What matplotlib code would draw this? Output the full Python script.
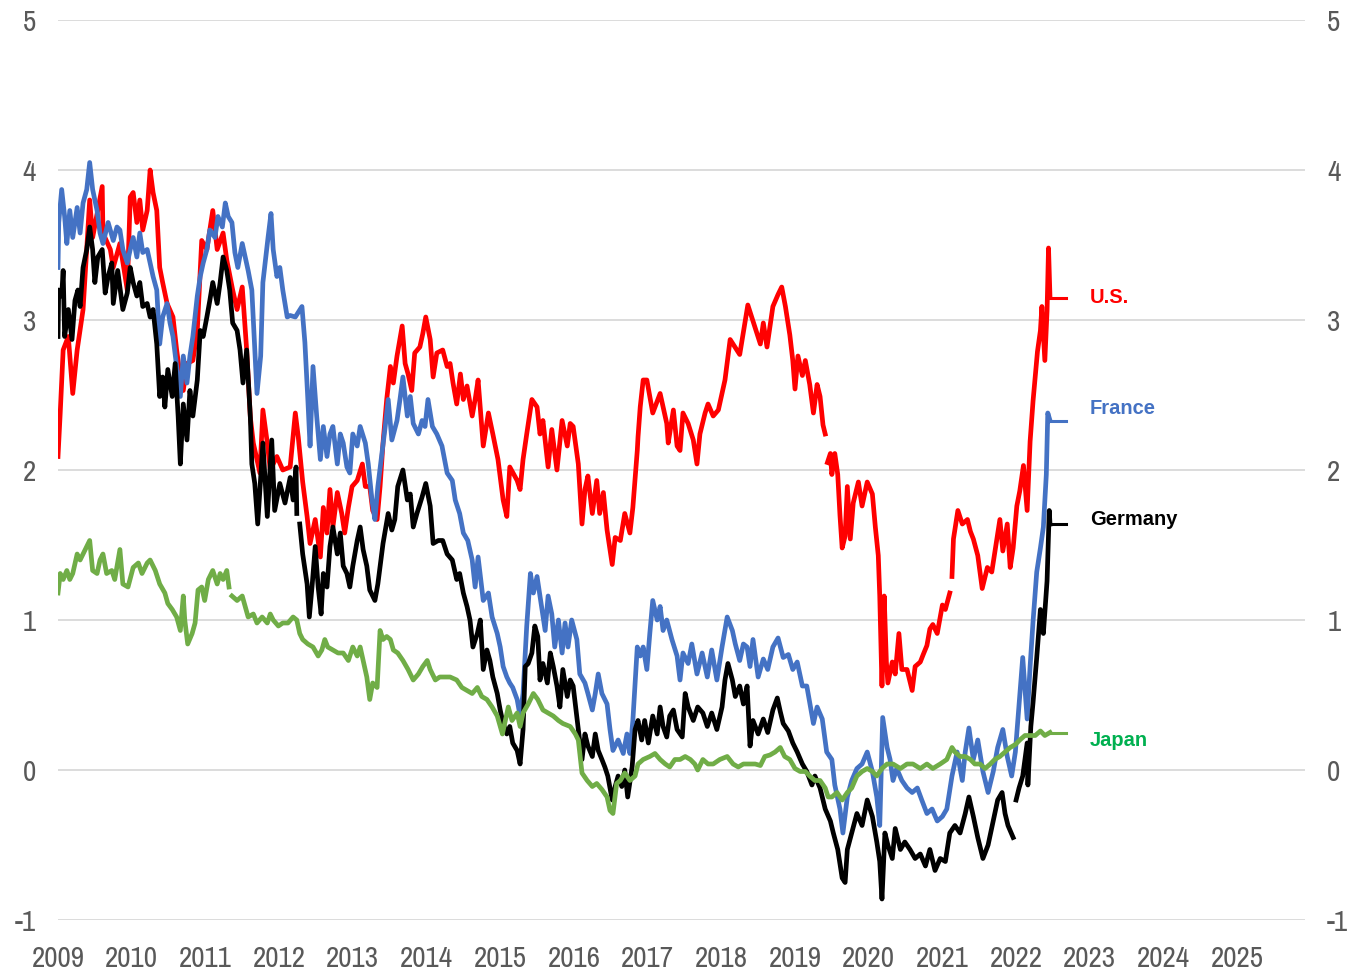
import numpy as np
import matplotlib
matplotlib.use("Agg")
import matplotlib.pyplot as plt
from matplotlib import font_manager

nan = np.nan

# 10-year government bond yields, %, decimal-year dates
us_t = [2009.00, 2009.03, 2009.07, 2009.14, 2009.20, 2009.26, 2009.34, 2009.39, 2009.43, 2009.47,
        2009.60, 2009.61, 2009.71, 2009.75, 2009.84, 2009.94, 2009.98, 2010.02, 2010.07, 2010.11,
        2010.15, 2010.21, 2010.25, 2010.29, 2010.34, 2010.38, 2010.42, 2010.48, 2010.56, 2010.61,
        2010.66, 2010.70, 2010.75, 2010.83, 2010.89, 2010.95, 2011.02, 2011.10, 2011.16, 2011.24,
        2011.29, 2011.37, 2011.43, 2011.50, 2011.56, 2011.61, 2011.65, 2011.74, 2011.78, 2011.84,
        2011.88, 2011.97, 2012.05, 2012.15, 2012.22, 2012.26, 2012.32, 2012.38, 2012.42, 2012.49,
        2012.56, 2012.60, 2012.65, 2012.69, 2012.73, 2012.79, 2012.85, 2012.89, 2012.94, 2012.99,
        2013.06, 2013.13, 2013.17, 2013.23, 2013.27, 2013.33, 2013.37, 2013.41, 2013.46, 2013.51,
        2013.55, 2013.60, 2013.67, 2013.71, 2013.75, 2013.80, 2013.84, 2013.91, 2013.95, 2013.99,
        2014.05, 2014.09, 2014.14, 2014.22, 2014.28, 2014.32, 2014.36, 2014.41, 2014.46, 2014.50,
        2014.55, 2014.62, 2014.66, 2014.70, 2014.77, 2014.84, 2014.90, 2014.97, 2015.04, 2015.09,
        2015.13, 2015.23, 2015.27, 2015.31, 2015.36, 2015.43, 2015.50, 2015.54, 2015.58, 2015.65,
        2015.70, 2015.77, 2015.84, 2015.91, 2015.95, 2015.99, 2016.06, 2016.11, 2016.15, 2016.19,
        2016.25, 2016.31, 2016.35, 2016.40, 2016.45, 2016.49, 2016.52, 2016.56, 2016.63, 2016.69,
        2016.76, 2016.80, 2016.86, 2016.87, 2016.90, 2016.94, 2016.99, 2017.07, 2017.17, 2017.26,
        2017.28, 2017.35, 2017.40, 2017.44, 2017.48, 2017.55, 2017.62, 2017.67, 2017.71, 2017.78,
        2017.82, 2017.89, 2017.96, 2018.01, 2018.05, 2018.12, 2018.25, 2018.36, 2018.53, 2018.57,
        2018.62, 2018.70, 2018.77, 2018.82, 2018.87, 2018.93, 2018.97, 2019.00, 2019.04, 2019.10,
        2019.14, 2019.20, 2019.25, 2019.30, 2019.34, 2019.38, 2019.41, 2019.42, 2019.44, 2019.48,
        2019.50, 2019.54, 2019.58, 2019.61, 2019.64, 2019.68, 2019.71, 2019.75, 2019.79, 2019.86,
        2019.91, 2019.98, 2020.05, 2020.09, 2020.13, 2020.15, 2020.18, 2020.21, 2020.24, 2020.26,
        2020.32, 2020.36, 2020.41, 2020.45, 2020.52, 2020.59, 2020.63, 2020.70, 2020.74, 2020.79,
        2020.83, 2020.87, 2020.93, 2021.00, 2021.04, 2021.10, 2021.12, 2021.13, 2021.15, 2021.21,
        2021.27, 2021.34, 2021.38, 2021.42, 2021.48, 2021.54, 2021.61, 2021.67, 2021.74, 2021.78,
        2021.82, 2021.88, 2021.92, 2021.96, 2022.01, 2022.05, 2022.10, 2022.15, 2022.19, 2022.23,
        2022.29, 2022.33, 2022.35, 2022.39, 2022.42, 2022.44, 2022.46]
us_v = [2.09, 2.38, 2.80, 2.89, 2.51, 2.80, 3.07, 3.47, 3.80, 3.55,
        3.89, 3.58, 3.47, 3.35, 3.51, 3.20, 3.82, 3.85, 3.65, 3.80,
        3.60, 3.73, 4.00, 3.85, 3.73, 3.35, 3.25, 3.11, 3.02, 2.80,
        2.62, 2.53, 2.71, 2.73, 2.93, 3.53, 3.47, 3.73, 3.47, 3.58,
        3.40, 3.20, 3.07, 3.22, 2.80, 2.35, 2.18, 1.98, 2.40, 2.18,
        2.00, 2.09, 2.00, 2.02, 2.38, 2.22, 1.92, 1.69, 1.51, 1.67,
        1.42, 1.75, 1.58, 1.87, 1.62, 1.85, 1.71, 1.58, 1.75, 1.89,
        1.93, 2.04, 1.89, 1.89, 1.73, 1.67, 1.89, 2.18, 2.47, 2.69,
        2.58, 2.76, 2.96, 2.71, 2.64, 2.53, 2.78, 2.82, 2.91, 3.02,
        2.87, 2.62, 2.78, 2.80, 2.69, 2.71, 2.58, 2.44, 2.64, 2.47,
        2.56, 2.36, 2.47, 2.60, 2.16, 2.38, 2.24, 2.07, 1.80, 1.69,
        2.02, 1.93, 1.87, 2.07, 2.24, 2.47, 2.42, 2.24, 2.33, 2.02,
        2.27, 2.00, 2.33, 2.16, 2.31, 2.29, 2.04, 1.64, 1.87, 1.96,
        1.71, 1.93, 1.71, 1.85, 1.60, 1.47, 1.37, 1.55, 1.53, 1.71,
        1.58, 1.75, 2.13, 2.22, 2.42, 2.60, 2.60, 2.38, 2.51, 2.31,
        2.18, 2.40, 2.16, 2.13, 2.38, 2.31, 2.20, 2.04, 2.24, 2.38,
        2.44, 2.36, 2.40, 2.51, 2.60, 2.87, 2.77, 3.10, 2.84, 2.98,
        2.82, 3.09, 3.17, 3.22, 3.09, 2.90, 2.73, 2.54, 2.76, 2.63,
        2.73, 2.57, 2.38, 2.57, 2.49, 2.30, 2.24, nan, 2.05, 2.11,
        1.97, 2.11, 1.97, 1.70, 1.48, 1.56, 1.89, 1.54, 1.78, 1.92,
        1.76, 1.92, 1.84, 1.62, 1.43, 1.16, 0.56, 1.16, 0.72, 0.58,
        0.72, 0.64, 0.91, 0.67, 0.67, 0.53, 0.69, 0.72, 0.77, 0.83,
        0.94, 0.97, 0.91, 1.10, 1.07, 1.18, nan, 1.29, 1.54, 1.73,
        1.64, 1.67, 1.59, 1.54, 1.43, 1.21, 1.35, 1.32, 1.54, 1.67,
        1.46, 1.64, 1.35, 1.48, 1.76, 1.86, 2.03, 1.73, 2.19, 2.46,
        2.79, 2.93, 3.09, 2.73, 3.06, 3.48, 3.15]

fr_t = [2009.00, 2009.01, 2009.05, 2009.09, 2009.12, 2009.16, 2009.20, 2009.26, 2009.30, 2009.34,
        2009.39, 2009.43, 2009.47, 2009.53, 2009.57, 2009.61, 2009.68, 2009.75, 2009.80, 2009.84,
        2009.88, 2009.94, 2009.98, 2010.02, 2010.07, 2010.11, 2010.15, 2010.21, 2010.25, 2010.29,
        2010.34, 2010.38, 2010.42, 2010.48, 2010.52, 2010.56, 2010.61, 2010.66, 2010.70, 2010.75,
        2010.79, 2010.83, 2010.89, 2010.93, 2010.97, 2011.02, 2011.06, 2011.13, 2011.17, 2011.23,
        2011.27, 2011.31, 2011.36, 2011.40, 2011.44, 2011.50, 2011.54, 2011.58, 2011.63, 2011.67,
        2011.70, 2011.75, 2011.78, 2011.85, 2011.89, 2011.92, 2011.97, 2012.01, 2012.05, 2012.11,
        2012.15, 2012.22, 2012.31, 2012.35, 2012.39, 2012.42, 2012.46, 2012.51, 2012.56, 2012.60,
        2012.65, 2012.69, 2012.73, 2012.79, 2012.83, 2012.87, 2012.92, 2012.96, 2013.00, 2013.06,
        2013.10, 2013.17, 2013.21, 2013.26, 2013.30, 2013.34, 2013.40, 2013.44, 2013.48, 2013.53,
        2013.60, 2013.64, 2013.68, 2013.74, 2013.78, 2013.82, 2013.89, 2013.94, 2013.98, 2014.02,
        2014.08, 2014.14, 2014.21, 2014.28, 2014.35, 2014.39, 2014.45, 2014.50, 2014.56, 2014.62,
        2014.66, 2014.70, 2014.77, 2014.84, 2014.89, 2014.96, 2015.00, 2015.04, 2015.09, 2015.13,
        2015.17, 2015.23, 2015.27, 2015.31, 2015.36, 2015.41, 2015.45, 2015.50, 2015.57, 2015.61,
        2015.65, 2015.70, 2015.74, 2015.79, 2015.84, 2015.88, 2015.92, 2015.97, 2016.04, 2016.08,
        2016.15, 2016.19, 2016.25, 2016.29, 2016.33, 2016.38, 2016.45, 2016.49, 2016.53, 2016.60,
        2016.67, 2016.72, 2016.76, 2016.80, 2016.86, 2016.90, 2016.94, 2016.99, 2017.03, 2017.07,
        2017.13, 2017.17, 2017.21, 2017.26, 2017.33, 2017.40, 2017.44, 2017.48, 2017.55, 2017.60,
        2017.67, 2017.74, 2017.81, 2017.87, 2017.94, 2018.01, 2018.08, 2018.15, 2018.19, 2018.25,
        2018.30, 2018.35, 2018.39, 2018.43, 2018.50, 2018.57, 2018.63, 2018.70, 2018.77, 2018.84,
        2018.91, 2018.97, 2019.03, 2019.10, 2019.16, 2019.20, 2019.25, 2019.30, 2019.37, 2019.43,
        2019.50, 2019.54, 2019.61, 2019.65, 2019.71, 2019.77, 2019.84, 2019.91, 2019.98, 2020.05,
        2020.11, 2020.15, 2020.19, 2020.25, 2020.29, 2020.33, 2020.38, 2020.45, 2020.52, 2020.59,
        2020.66, 2020.72, 2020.79, 2020.86, 2020.93, 2021.00, 2021.06, 2021.13, 2021.20, 2021.27,
        2021.31, 2021.36, 2021.42, 2021.48, 2021.55, 2021.62, 2021.69, 2021.75, 2021.82, 2021.88,
        2021.94, 2021.99, 2022.03, 2022.09, 2022.15, 2022.19, 2022.23, 2022.28, 2022.33, 2022.37,
        2022.41, 2022.43, 2022.46]
fr_v = [3.35, 3.65, 3.87, 3.69, 3.51, 3.73, 3.55, 3.75, 3.58, 3.78,
        3.87, 4.05, 3.87, 3.73, 3.58, 3.51, 3.65, 3.53, 3.62, 3.60,
        3.47, 3.38, 3.47, 3.55, 3.42, 3.58, 3.45, 3.47, 3.38, 3.29,
        3.20, 2.84, 3.02, 3.11, 2.98, 2.89, 2.69, 2.49, 2.76, 2.58,
        2.76, 2.89, 3.16, 3.29, 3.38, 3.47, 3.60, 3.55, 3.69, 3.62,
        3.78, 3.69, 3.65, 3.45, 3.35, 3.51, 3.42, 3.33, 3.20, 2.80,
        2.51, 2.76, 3.25, 3.55, 3.71, 3.47, 3.29, 3.35, 3.20, 3.02,
        3.03, 3.02, 3.09, 2.85, 2.47, 2.16, 2.69, 2.36, 2.07, 2.29,
        2.09, 2.24, 2.29, 2.04, 2.24, 2.18, 2.02, 1.98, 2.24, 2.16,
        2.29, 2.18, 2.04, 1.80, 1.67, 1.89, 2.13, 2.29, 2.47, 2.20,
        2.33, 2.47, 2.62, 2.36, 2.49, 2.31, 2.24, 2.33, 2.29, 2.47,
        2.29, 2.24, 2.16, 1.98, 1.93, 1.80, 1.71, 1.58, 1.53, 1.40,
        1.22, 1.42, 1.13, 1.18, 1.02, 0.91, 0.82, 0.69, 0.62, 0.58,
        0.55, 0.47, 0.36, 0.51, 0.96, 1.31, 1.18, 1.29, 1.06, 0.93,
        1.16, 1.04, 0.82, 1.00, 0.78, 0.98, 0.82, 1.00, 0.87, 0.64,
        0.58, 0.51, 0.40, 0.51, 0.64, 0.51, 0.44, 0.27, 0.13, 0.20,
        0.11, 0.24, 0.11, 0.33, 0.82, 0.76, 0.82, 0.67, 0.91, 1.13,
        1.00, 1.09, 0.93, 1.00, 0.87, 0.76, 0.60, 0.78, 0.71, 0.84,
        0.64, 0.78, 0.62, 0.80, 0.60, 0.82, 1.02, 0.93, 0.84, 0.73,
        0.84, 0.82, 0.69, 0.87, 0.62, 0.74, 0.67, 0.82, 0.88, 0.75,
        0.77, 0.67, 0.72, 0.56, 0.56, 0.45, 0.31, 0.42, 0.34, 0.12,
        0.07, -0.10, -0.26, -0.42, -0.18, -0.07, 0.01, 0.04, 0.12, -0.01,
        -0.18, -0.37, 0.35, 0.15, 0.07, -0.07, 0.01, -0.07, -0.12, -0.15,
        -0.12, -0.20, -0.29, -0.26, -0.34, -0.31, -0.26, -0.04, 0.12, -0.07,
        0.12, 0.28, 0.07, 0.20, -0.01, -0.15, -0.01, 0.15, 0.27, 0.09,
        -0.04, 0.12, 0.37, 0.75, 0.34, 0.69, 0.99, 1.32, 1.48, 1.62,
        1.97, 2.38, 2.33]

de_t = [2009.00, 2009.01, 2009.05, 2009.07, 2009.09, 2009.14, 2009.19, 2009.23, 2009.27, 2009.30,
        2009.34, 2009.39, 2009.43, 2009.47, 2009.50, 2009.54, 2009.60, 2009.64, 2009.68, 2009.73,
        2009.75, 2009.81, 2009.88, 2009.94, 2009.98, 2010.02, 2010.07, 2010.11, 2010.15, 2010.21,
        2010.25, 2010.29, 2010.34, 2010.38, 2010.42, 2010.45, 2010.49, 2010.55, 2010.59, 2010.63,
        2010.66, 2010.70, 2010.75, 2010.79, 2010.83, 2010.89, 2010.93, 2010.97, 2011.02, 2011.06,
        2011.10, 2011.16, 2011.20, 2011.24, 2011.29, 2011.33, 2011.37, 2011.43, 2011.47, 2011.51,
        2011.56, 2011.61, 2011.63, 2011.67, 2011.71, 2011.78, 2011.84, 2011.90, 2011.94, 2012.01,
        2012.08, 2012.15, 2012.19, 2012.23, 2012.24, 2012.26, 2012.28, 2012.32, 2012.38, 2012.41,
        2012.45, 2012.49, 2012.53, 2012.57, 2012.60, 2012.65, 2012.69, 2012.73, 2012.79, 2012.83,
        2012.87, 2012.92, 2012.96, 2013.00, 2013.06, 2013.10, 2013.14, 2013.19, 2013.23, 2013.30,
        2013.34, 2013.41, 2013.48, 2013.53, 2013.57, 2013.61, 2013.68, 2013.74, 2013.78, 2013.82,
        2013.87, 2013.94, 2013.99, 2014.05, 2014.09, 2014.16, 2014.22, 2014.28, 2014.35, 2014.41,
        2014.45, 2014.50, 2014.55, 2014.59, 2014.63, 2014.69, 2014.73, 2014.77, 2014.82, 2014.86,
        2014.90, 2014.96, 2015.00, 2015.04, 2015.09, 2015.13, 2015.17, 2015.23, 2015.27, 2015.31,
        2015.34, 2015.38, 2015.43, 2015.47, 2015.51, 2015.54, 2015.58, 2015.64, 2015.68, 2015.72,
        2015.77, 2015.81, 2015.85, 2015.91, 2015.95, 2015.99, 2016.06, 2016.11, 2016.15, 2016.19,
        2016.25, 2016.29, 2016.33, 2016.38, 2016.42, 2016.46, 2016.52, 2016.56, 2016.60, 2016.65,
        2016.69, 2016.73, 2016.79, 2016.83, 2016.87, 2016.92, 2016.96, 2017.01, 2017.07, 2017.13,
        2017.17, 2017.21, 2017.26, 2017.30, 2017.35, 2017.40, 2017.47, 2017.51, 2017.55, 2017.62,
        2017.68, 2017.75, 2017.81, 2017.87, 2017.94, 2018.01, 2018.05, 2018.09, 2018.15, 2018.19,
        2018.25, 2018.30, 2018.35, 2018.39, 2018.43, 2018.50, 2018.57, 2018.63, 2018.70, 2018.76,
        2018.80, 2018.84, 2018.91, 2018.97, 2019.03, 2019.10, 2019.16, 2019.23, 2019.27, 2019.34,
        2019.41, 2019.48, 2019.52, 2019.58, 2019.64, 2019.68, 2019.71, 2019.77, 2019.84, 2019.91,
        2019.98, 2020.05, 2020.11, 2020.15, 2020.18, 2020.22, 2020.26, 2020.32, 2020.36, 2020.43,
        2020.49, 2020.56, 2020.63, 2020.70, 2020.77, 2020.83, 2020.90, 2020.97, 2021.04, 2021.10,
        2021.17, 2021.24, 2021.31, 2021.36, 2021.42, 2021.48, 2021.55, 2021.62, 2021.69, 2021.75,
        2021.81, 2021.85, 2021.89, 2021.96, 2021.98, 2022.00, 2022.04, 2022.09, 2022.15, 2022.16,
        2022.20, 2022.23, 2022.28, 2022.33, 2022.37, 2022.42, 2022.45, 2022.46]
de_v = [2.89, 3.20, 3.16, 3.33, 2.89, 3.07, 2.87, 3.13, 3.20, 3.09,
        3.35, 3.47, 3.62, 3.47, 3.25, 3.42, 3.47, 3.18, 3.29, 3.38,
        3.11, 3.33, 3.07, 3.18, 3.35, 3.25, 3.16, 3.25, 3.09, 3.11,
        3.02, 3.07, 2.84, 2.49, 2.62, 2.42, 2.67, 2.49, 2.71, 2.36,
        2.04, 2.44, 2.20, 2.53, 2.36, 2.60, 2.93, 2.89, 3.02, 3.13,
        3.25, 3.11, 3.25, 3.42, 3.33, 3.20, 2.98, 2.93, 2.80, 2.58,
        2.80, 2.35, 2.04, 1.91, 1.64, 2.18, 1.69, 2.20, 1.73, 1.91,
        1.78, 1.95, 1.80, 2.02, 1.71, nan, 1.64, 1.44, 1.24, 1.02,
        1.24, 1.49, 1.22, 1.04, 1.31, 1.22, 1.49, 1.62, 1.44, 1.58,
        1.36, 1.31, 1.22, 1.36, 1.53, 1.62, 1.47, 1.36, 1.20, 1.13,
        1.24, 1.51, 1.71, 1.60, 1.67, 1.89, 2.00, 1.80, 1.84, 1.62,
        1.71, 1.82, 1.91, 1.76, 1.51, 1.53, 1.53, 1.44, 1.40, 1.27,
        1.31, 1.18, 1.09, 1.00, 0.82, 0.91, 1.00, 0.67, 0.80, 0.73,
        0.62, 0.51, 0.40, 0.31, 0.24, 0.29, 0.18, 0.13, 0.04, 0.27,
        0.69, 0.71, 0.78, 0.96, 0.89, 0.60, 0.71, 0.58, 0.78, 0.69,
        0.56, 0.42, 0.67, 0.49, 0.60, 0.56, 0.27, 0.07, 0.24, 0.16,
        0.09, 0.24, 0.13, 0.07, 0.02, -0.04, -0.20, -0.11, -0.04, -0.11,
        0.00, -0.18, 0.02, 0.27, 0.33, 0.20, 0.33, 0.18, 0.36, 0.24,
        0.42, 0.29, 0.22, 0.36, 0.40, 0.27, 0.22, 0.51, 0.42, 0.33,
        0.42, 0.38, 0.29, 0.38, 0.27, 0.42, 0.60, 0.71, 0.60, 0.49,
        0.56, 0.44, 0.56, 0.16, 0.33, 0.24, 0.34, 0.25, 0.40, 0.48,
        0.39, 0.31, 0.26, 0.18, 0.12, 0.04, -0.01, -0.10, -0.04, -0.12,
        -0.26, -0.34, -0.42, -0.53, -0.72, -0.75, -0.53, -0.42, -0.29, -0.37,
        -0.20, -0.31, -0.48, -0.61, -0.86, -0.42, -0.50, -0.59, -0.39, -0.53,
        -0.48, -0.53, -0.59, -0.56, -0.64, -0.53, -0.67, -0.59, -0.61, -0.42,
        -0.37, -0.42, -0.29, -0.18, -0.31, -0.45, -0.59, -0.50, -0.34, -0.20,
        -0.15, -0.29, -0.37, -0.45, nan, -0.20, -0.12, -0.04, 0.18, -0.10,
        0.29, 0.45, 0.75, 1.07, 0.91, 1.26, 1.73, 1.64]

jp_t = [2009.00, 2009.03, 2009.07, 2009.12, 2009.16, 2009.20, 2009.26, 2009.30, 2009.34, 2009.39,
        2009.43, 2009.47, 2009.53, 2009.57, 2009.61, 2009.66, 2009.73, 2009.77, 2009.84, 2009.88,
        2009.95, 2010.02, 2010.09, 2010.14, 2010.21, 2010.25, 2010.32, 2010.38, 2010.45, 2010.49,
        2010.55, 2010.61, 2010.66, 2010.70, 2010.72, 2010.76, 2010.82, 2010.86, 2010.90, 2010.95,
        2010.99, 2011.04, 2011.10, 2011.16, 2011.20, 2011.24, 2011.29, 2011.32, 2011.34, 2011.36,
        2011.43, 2011.50, 2011.54, 2011.58, 2011.65, 2011.70, 2011.77, 2011.84, 2011.88, 2011.92,
        2011.99, 2012.05, 2012.12, 2012.19, 2012.24, 2012.28, 2012.32, 2012.39, 2012.46, 2012.53,
        2012.58, 2012.62, 2012.66, 2012.73, 2012.80, 2012.87, 2012.94, 2013.00, 2013.06, 2013.10,
        2013.14, 2013.19, 2013.23, 2013.27, 2013.33, 2013.37, 2013.41, 2013.46, 2013.51, 2013.55,
        2013.61, 2013.68, 2013.75, 2013.82, 2013.89, 2013.95, 2014.01, 2014.05, 2014.12, 2014.18,
        2014.25, 2014.32, 2014.41, 2014.48, 2014.55, 2014.62, 2014.69, 2014.75, 2014.82, 2014.89,
        2014.96, 2015.03, 2015.07, 2015.11, 2015.16, 2015.23, 2015.27, 2015.31, 2015.38, 2015.45,
        2015.51, 2015.58, 2015.65, 2015.72, 2015.79, 2015.85, 2015.95, 2016.02, 2016.06, 2016.11,
        2016.18, 2016.25, 2016.31, 2016.38, 2016.45, 2016.49, 2016.53, 2016.58, 2016.63, 2016.69,
        2016.76, 2016.83, 2016.87, 2016.94, 2017.03, 2017.10, 2017.17, 2017.24, 2017.30, 2017.37,
        2017.44, 2017.51, 2017.58, 2017.64, 2017.68, 2017.75, 2017.82, 2017.89, 2017.98, 2018.08,
        2018.16, 2018.23, 2018.30, 2018.39, 2018.46, 2018.53, 2018.59, 2018.66, 2018.73, 2018.80,
        2018.86, 2018.93, 2019.00, 2019.07, 2019.14, 2019.20, 2019.27, 2019.34, 2019.41, 2019.45,
        2019.50, 2019.57, 2019.64, 2019.71, 2019.77, 2019.84, 2019.91, 2019.98, 2020.05, 2020.11,
        2020.18, 2020.25, 2020.33, 2020.43, 2020.52, 2020.60, 2020.70, 2020.79, 2020.87, 2020.97,
        2021.06, 2021.13, 2021.17, 2021.24, 2021.31, 2021.38, 2021.44, 2021.51, 2021.58, 2021.65,
        2021.71, 2021.78, 2021.85, 2021.92, 2021.99, 2022.05, 2022.12, 2022.19, 2022.26, 2022.33,
        2022.39, 2022.46]
jp_v = [1.18, 1.31, 1.27, 1.33, 1.27, 1.31, 1.44, 1.40, 1.44, 1.49,
        1.53, 1.33, 1.31, 1.40, 1.44, 1.31, 1.33, 1.27, 1.47, 1.24,
        1.22, 1.35, 1.38, 1.31, 1.38, 1.40, 1.33, 1.24, 1.18, 1.11,
        1.07, 1.02, 0.93, 1.16, 1.00, 0.84, 0.91, 0.98, 1.20, 1.22,
        1.13, 1.27, 1.33, 1.24, 1.31, 1.27, 1.33, 1.22, nan, 1.16,
        1.13, 1.16, 1.09, 1.02, 1.04, 0.98, 1.02, 0.98, 1.04, 1.00,
        0.96, 0.98, 0.98, 1.02, 1.00, 0.91, 0.87, 0.84, 0.82, 0.76,
        0.80, 0.87, 0.82, 0.80, 0.78, 0.78, 0.73, 0.82, 0.76, 0.82,
        0.73, 0.62, 0.47, 0.58, 0.55, 0.93, 0.87, 0.89, 0.87, 0.80,
        0.78, 0.73, 0.67, 0.60, 0.64, 0.69, 0.73, 0.67, 0.60, 0.62,
        0.62, 0.62, 0.60, 0.55, 0.53, 0.51, 0.55, 0.49, 0.47, 0.42,
        0.36, 0.24, 0.33, 0.42, 0.33, 0.38, 0.29, 0.38, 0.44, 0.51,
        0.47, 0.40, 0.38, 0.36, 0.33, 0.31, 0.29, 0.24, 0.20, -0.02,
        -0.07, -0.11, -0.09, -0.13, -0.18, -0.27, -0.29, -0.09, -0.07, -0.02,
        -0.07, -0.04, 0.04, 0.07, 0.09, 0.11, 0.07, 0.04, 0.02, 0.07,
        0.07, 0.09, 0.07, 0.04, 0.00, 0.07, 0.04, 0.04, 0.07, 0.09,
        0.04, 0.02, 0.04, 0.04, 0.04, 0.03, 0.09, 0.10, 0.12, 0.15,
        0.09, 0.07, 0.01, -0.01, -0.01, -0.04, -0.07, -0.07, -0.12, -0.18,
        -0.18, -0.15, -0.20, -0.15, -0.12, -0.04, -0.01, 0.01, -0.01, -0.04,
        0.01, 0.04, 0.04, 0.01, 0.04, 0.04, 0.01, 0.04, 0.01, 0.04,
        0.07, 0.15, 0.12, 0.09, 0.09, 0.07, 0.04, 0.04, 0.01, 0.04,
        0.07, 0.09, 0.12, 0.15, 0.17, 0.20, 0.23, 0.23, 0.23, 0.26,
        0.23, 0.25]

names = ["U.S.", "France", "Germany", "Japan"]
line_colors = ["#FF0000", "#4472C4", "#000000", "#70AD47"]
label_colors = ["#FF0000", "#4472C4", "#000000", "#00B050"]
label_y = [3.15, 2.41, 1.67, 0.20]
series = [(us_t, us_v), (fr_t, fr_v), (de_t, de_v), (jp_t, jp_v)]

# axis numbers in a narrow grotesque, like Arial Narrow
installed = {f.name for f in font_manager.fontManager.ttflist}
narrow = [n for n in ["Liberation Sans Narrow", "Arial Narrow", "Archivo Narrow",
                      "Roboto Condensed", "PT Sans Narrow"] if n in installed]
plt.rcParams["font.family"] = narrow[:1] + ["Liberation Sans", "DejaVu Sans"]

fig = plt.figure(figsize=(13.48, 9.72), dpi=100)
ax = fig.add_axes([58 / 1348, 52 / 972, 1247 / 1348, 900 / 972])

# draw order: Japan at the back, Germany in front
for i in [3, 0, 1, 2]:
    t, v = series[i]
    ax.plot(t, v, color=line_colors[i], lw=3.4, solid_joinstyle="round", zorder=3 + i)
    ax.plot([t[-1], 2022.68], [v[-1], v[-1]], color=line_colors[i], lw=2.2, zorder=3 + i)
    ax.text(2023.0, label_y[i], names[i], color=label_colors[i], fontsize=14.5,
            fontweight="bold", family=["Liberation Sans", "DejaVu Sans"],
            va="center", ha="left")

ax.set_xlim(2009, 2025.92)
ax.set_ylim(-1, 5)
ax.set_xticks(range(2009, 2026))
ax.set_yticks(range(-1, 6))
ax.set_yticklabels([str(k) for k in range(-1, 6)])
ax.grid(axis="y", color="#D9D9D9", lw=1.3, zorder=0)
ax.set_axisbelow(True)
for s in ax.spines.values():
    s.set_visible(False)
ax.tick_params(axis="both", length=0, labelsize=21, labelcolor="#595959")
ax.tick_params(axis="y", pad=16, labelright=True)
ax.tick_params(axis="x", pad=18)

fig.savefig("out.png", dpi=100)
